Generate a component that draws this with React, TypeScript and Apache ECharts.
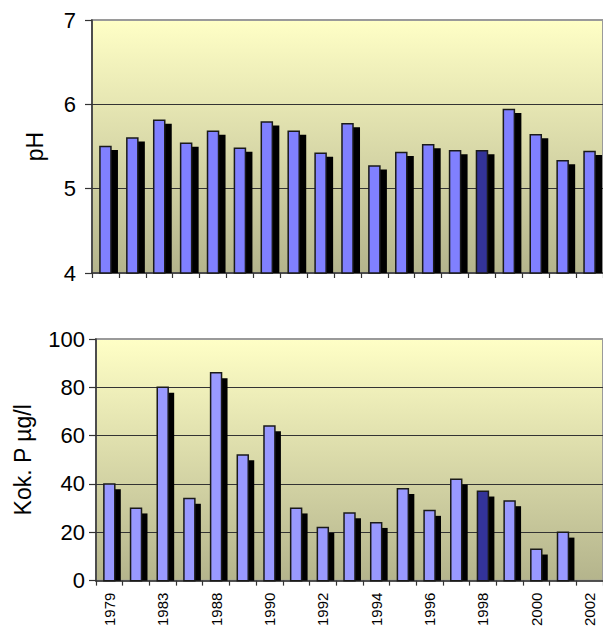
import React, { useEffect, useRef } from "react";
import * as echarts from "echarts";

// Sampling years (every other one is labelled on the axis)
const years = [
  "1979", "1981", "1983", "1986", "1988", "1989", "1990", "1991", "1992", "1993",
  "1994", "1995", "1996", "1997", "1998", "1999", "2000", "2001", "2002",
];

// Surface-water pH
const phValues = [
  5.5, 5.6, 5.81, 5.54, 5.68, 5.48, 5.79, 5.68, 5.42, 5.77,
  5.27, 5.43, 5.52, 5.45, 5.45, 5.94, 5.64, 5.33, 5.44,
];

// Total phosphorus, µg/l (no measurement for 2002)
const phosValues: (number | null)[] = [
  40, 30, 80, 34, 86, 52, 64, 30, 22, 28,
  24, 38, 29, 42, 37, 33, 13, 20, null,
];

const phTicks = { min: 4, max: 7, interval: 1 };
const phosTicks = { min: 0, max: 100, interval: 20 };

const highlightYear = "1998";

const FONT = "'Liberation Sans', Arial, sans-serif";

function barRenderer(fill: string, offX: number, offY: number) {
  return (params: any, api: any) => {
    const v = api.value(1);
    if (v == null || isNaN(v)) return null;
    const i = api.value(0);
    const pt = api.coord([i, v]);
    const cs = params.coordSys;
    const base = cs.y + cs.height;
    const band = api.size([1, 0])[0];
    const w = band * 0.41;
    const x = pt[0] - w / 2;
    const color = years[i] === highlightYear ? "#333399" : fill;
    const children: any[] = [];
    const sh = base - (pt[1] + offY);
    if (sh > 0) {
      children.push({
        type: "rect",
        shape: { x: x + offX, y: pt[1] + offY, width: w, height: sh },
        style: { fill: "#000" },
      });
    }
    children.push({
      type: "rect",
      shape: { x, y: pt[1], width: w, height: base - pt[1] },
      style: { fill: color, stroke: "#1a1a1a", lineWidth: 1.5 },
    });
    return { type: "group", children };
  };
}

const plotBg = () =>
  new echarts.graphic.LinearGradient(0, 0, 0, 1, [
    { offset: 0, color: "#FFFFC6" },
    { offset: 1, color: "#B4B48C" },
  ]);

export default function App() {
  const ref = useRef<HTMLDivElement>(null);

  useEffect(() => {
    if (!ref.current) return;
    const chart = echarts.init(ref.current, null, { renderer: "svg" });

    const yAxisBase = {
      type: "value" as const,
      nameLocation: "middle" as const,
      nameRotate: 90,
      nameTextStyle: { fontFamily: FONT, fontSize: 23, color: "#000" },
      axisLine: { show: true, lineStyle: { color: "#333", width: 1.5 } },
      axisTick: { show: true, length: 7, lineStyle: { color: "#333", width: 1.2 } },
      splitLine: {
        show: true,
        showMaxLine: false,
        showMinLine: false,
        lineStyle: { color: "#333", width: 1.2 },
      },
    };

    const xAxisBase = {
      type: "category" as const,
      data: years,
      boundaryGap: true,
      axisLine: { show: true, lineStyle: { color: "#333", width: 1.5 } },
      axisTick: { show: true, length: 5, interval: 0, lineStyle: { color: "#333", width: 1.2 } },
    };

    chart.setOption({
      animation: false,
      grid: [
        {
          left: 92, top: 20, width: 514, height: 253,
          show: true, backgroundColor: plotBg(), borderColor: "#9a9a9a", borderWidth: 2,
        },
        {
          left: 96, top: 339, width: 517, height: 242,
          show: true, backgroundColor: plotBg(), borderColor: "#9a9a9a", borderWidth: 2,
        },
      ],
      xAxis: [
        { ...xAxisBase, gridIndex: 0, axisLabel: { show: false } },
        {
          ...xAxisBase,
          gridIndex: 1,
          axisLabel: {
            interval: 1, rotate: 90, fontFamily: FONT, fontSize: 15, color: "#000", margin: 12,
          },
        },
      ],
      yAxis: [
        {
          ...yAxisBase, gridIndex: 0, name: "pH", nameGap: 46, ...phTicks,
          axisLabel: { fontFamily: FONT, fontSize: 22, color: "#000", margin: 16 },
        },
        {
          ...yAxisBase, gridIndex: 1, name: "Kok. P µg/l", nameGap: 62, ...phosTicks,
          axisLabel: { fontFamily: FONT, fontSize: 22, color: "#000", margin: 11 },
        },
      ],
      series: [
        {
          type: "custom",
          xAxisIndex: 0,
          yAxisIndex: 0,
          encode: { x: 0, y: 1 },
          data: phValues.map((v, i) => [i, v]),
          renderItem: barRenderer("#8080FF", 7, 3.5),
        },
        {
          type: "custom",
          xAxisIndex: 1,
          yAxisIndex: 1,
          encode: { x: 0, y: 1 },
          data: phosValues.map((v, i) => [i, v == null ? NaN : v]),
          renderItem: barRenderer("#9999FF", 6, 5.3),
        },
      ],
    });

    return () => chart.dispose();
  }, []);

  return (
    <div
      ref={ref}
      style={{ position: "fixed", left: 0, top: 0, width: 603, height: 629, background: "#fff" }}
    />
  );
}
